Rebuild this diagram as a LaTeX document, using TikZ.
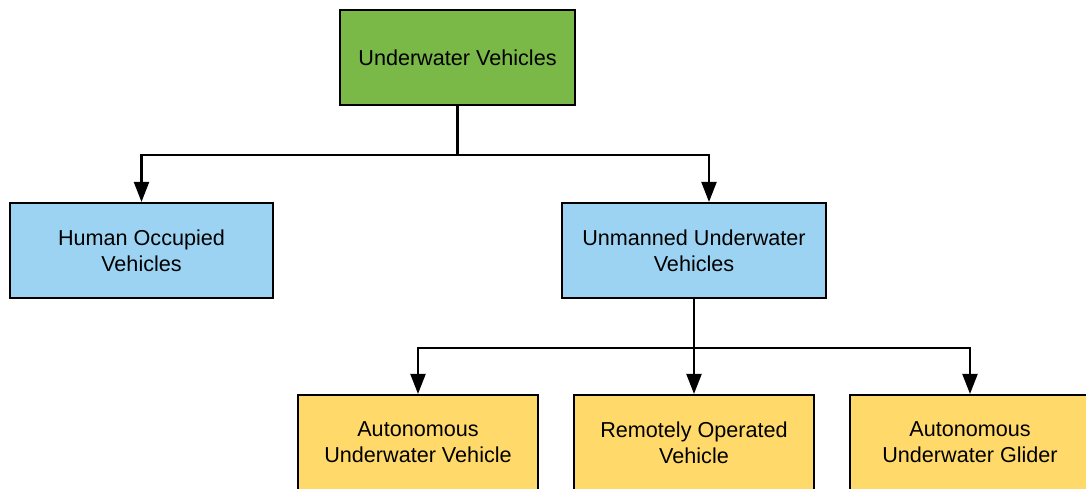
\documentclass[tikz,border=0pt]{standalone}
\usepackage{fontspec}
\setmainfont{Liberation Sans}
\usepackage{tikz}
\usetikzlibrary{arrows.meta}
\usepackage{color}
\definecolor{Lucid-green}{RGB}{122,184,72}
\definecolor{Lucid-blue}{RGB}{157,211,242}
\definecolor{Lucid-yellow}{RGB}{255,218,106}

\begin{document}
\begin{tikzpicture}[x=0.02cm, y=-0.02cm]
    \path[use as bounding box] (0, 0) rectangle (1086, 489);
    \clip (0, 0) rectangle (1086, 489);

    \tikzset{ box/.style ={draw=black, line width=1.2pt, rectangle, minimum height=1.9cm, align=center, font=\fontsize{12.3}{14.8}\selectfont} }
    \tikzset{ top/.style ={box, fill=Lucid-green,  minimum width=4.7cm } }
    \tikzset{ mid/.style ={box, fill=Lucid-blue,   minimum width=5.27cm} }
    \tikzset{ low/.style ={box, fill=Lucid-yellow, minimum width=4.8cm } }
    \tikzset{ arr/.style ={->, >={Triangle[length=0.4cm, width=0.3cm]}, line width=1.2pt} }

    \node[top] (uv)  at (457.5,  57.5) {Underwater Vehicles};
    \node[mid] (hov) at (141.5, 250.5) {Human Occupied\\Vehicles};
    \node[mid] (uuv) at (694.0, 250.5) {Unmanned Underwater\\Vehicles};
    \node[low] (auv) at (418.0, 442.5) {Autonomous\\Underwater Vehicle};
    \node[low] (rov) at (694.0, 442.5) {Remotely Operated\\Vehicle};
    \node[low] (aug) at (970.0, 442.5) {Autonomous\\Underwater Glider};

    \draw[arr] (uv.south) -- ++(0,49) -| (hov.north);
    \draw[arr] (uv.south) -- ++(0,49) -| ([xshift=0.3cm]uuv.north);
    \draw[arr] (uuv.south) -- (rov.north);
    \draw[arr] (uuv.south) ++(0,49) -| (auv.north);
    \draw[arr] (uuv.south) ++(0,49) -| (aug.north);

  \end{tikzpicture}
\end{document}
